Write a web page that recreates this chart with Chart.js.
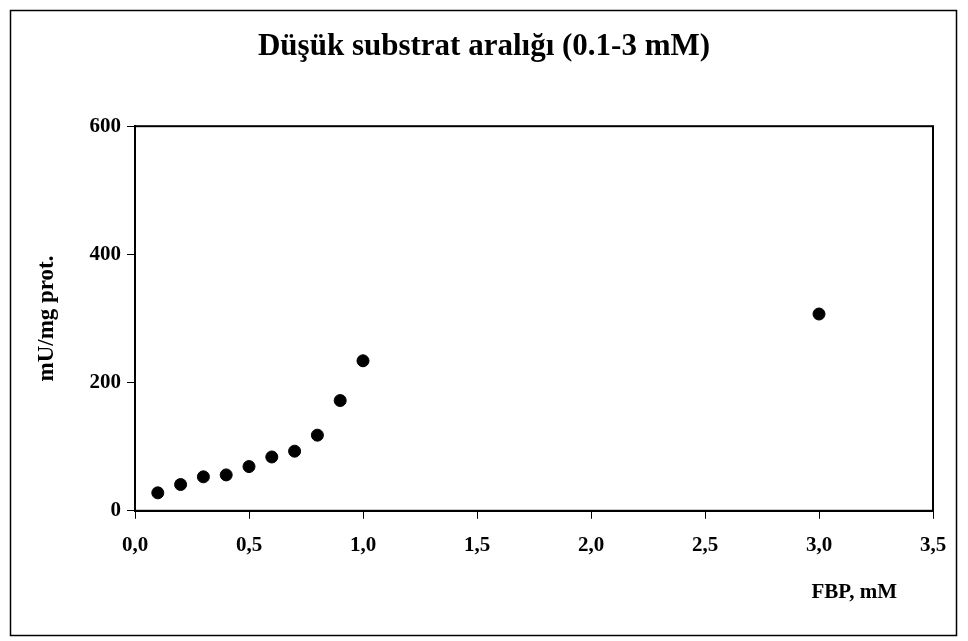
<!DOCTYPE html>
<html>
<head>
<meta charset="utf-8">
<script src="https://cdn.jsdelivr.net/npm/chart.js@4"></script>
<style>
  html, body { margin: 0; padding: 0; background: #fff; }
  #wrap { position: relative; width: 968px; height: 641px; }
</style>
</head>
<body>
<div id="wrap"><canvas id="chart"></canvas></div>
<script>
// FBP concentration (mM) and activity (mU/mg prot.)
const fbp      = [0.1, 0.2, 0.3, 0.4, 0.5, 0.6, 0.7, 0.8, 0.9, 1.0, 3.0];
const activity = [28, 41, 53, 56, 69, 84, 93, 118, 172, 234, 307];

const titleText = "Düşük substrat aralığı (0.1-3 mM)";
const xTitle = "FBP, mM";
const yTitle = "mU/mg prot.";

const serif = "'Liberation Serif', 'Times New Roman', serif";

// outer frame, box round the plot area and the x axis caption
const frame = {
  id: "frame",
  afterDraw(chart){
    const c = chart.ctx, a = chart.chartArea;
    c.save();
    c.strokeStyle = "#000";
    c.lineWidth = 2;
    c.strokeRect(a.left, a.top, a.right - a.left, a.bottom - a.top);
    c.lineWidth = 1.5;
    c.strokeRect(10.5, 10.5, 946, 625);
    c.fillStyle = "#000";
    c.font = "bold 21px " + serif;
    c.textAlign = "right";
    c.textBaseline = "alphabetic";
    c.fillText(xTitle, a.right - 36, 598);
    c.restore();
  }
};

const ctx = document.getElementById("chart").getContext("2d");
new Chart(ctx, {
  type: "scatter",
  data: {
    datasets: [{
      data: fbp.map((x, i) => ({ x, y: activity[i] })),
      backgroundColor: "#000",
      borderColor: "#000",
      pointRadius: 6,
      pointHoverRadius: 6,
      showLine: false
    }]
  },
  options: {
    responsive: true,
    maintainAspectRatio: false,
    animation: false,
    layout: { padding: { left: 35, right: 35, top: 0, bottom: 69 } },
    plugins: {
      legend: { display: false },
      tooltip: { enabled: false },
      title: {
        display: true,
        text: titleText,
        color: "#000",
        font: { family: serif, size: 31, weight: "bold" },
        padding: { top: 28, bottom: 61 }
      }
    },
    scales: {
      x: {
        type: "linear",
        min: 0, max: 3.5,
        border: { display: true, color: "#000", width: 2 },
        grid: { drawOnChartArea: false, drawTicks: true, tickLength: 8, tickColor: "#000", lineWidth: 1 },
        ticks: {
          stepSize: 0.5,
          color: "#000",
          padding: 14,
          font: { family: serif, size: 21, weight: "bold" },
          callback: v => v.toFixed(1).replace(".", ",")
        }
      },
      y: {
        min: 0, max: 600,
        border: { display: true, color: "#000", width: 2 },
        grid: { drawOnChartArea: false, drawTicks: true, tickLength: 8, tickColor: "#000", lineWidth: 1 },
        ticks: {
          stepSize: 200,
          color: "#000",
          padding: 6,
          font: { family: serif, size: 21, weight: "bold" }
        },
        title: {
          display: true,
          text: yTitle,
          color: "#000",
          font: { family: serif, size: 23, weight: "bold" },
          padding: { top: -2, bottom: 0 }
        },
        afterFit(scale){ scale.width = 100; }
      }
    }
  },
  plugins: [frame]
});
</script>
</body>
</html>
